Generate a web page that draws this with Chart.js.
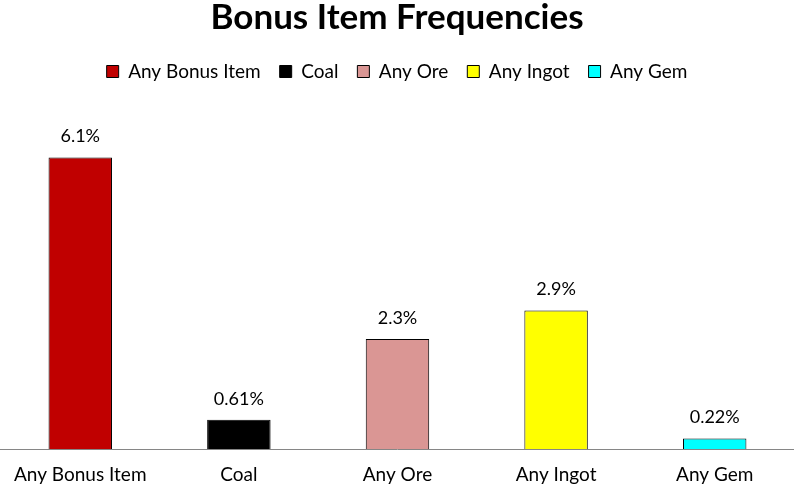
<!DOCTYPE html>
<html>
<head>
<meta charset="utf-8">
<script src="https://cdn.jsdelivr.net/npm/chart.js@4"></script>
<style>
  html, body { margin: 0; padding: 0; background: #fff; }
  #wrap { width: 794px; height: 486px; position: relative; }
</style>
</head>
<body>
<div id="wrap"><canvas id="chart"></canvas></div>
<script>
const categories = ["Any Bonus Item", "Coal", "Any Ore", "Any Ingot", "Any Gem"];
const frequencies = [6.1, 0.61, 2.3, 2.9, 0.22];
const valueLabels = ["6.1%", "0.61%", "2.3%", "2.9%", "0.22%"];
const barColors = ["#c00000", "#000000", "#da9694", "#ffff00", "#00ffff"];

const FONT = "Lato, 'Open Sans', sans-serif";

// draws the percentage text above each bar
const valueLabelPlugin = {
  id: "valueLabels",
  afterDatasetsDraw(chart) {
    const ctx = chart.ctx;
    const meta = chart.getDatasetMeta(0);
    ctx.save();
    ctx.font = `18px ${FONT}`;
    ctx.fillStyle = "#000";
    ctx.textAlign = "center";
    ctx.textBaseline = "middle";
    meta.data.forEach((bar, i) => {
      ctx.fillText(valueLabels[i], bar.x, bar.y - 21);
    });
    ctx.restore();
  }
};

new Chart(document.getElementById("chart"), {
  type: "bar",
  data: {
    labels: categories,
    datasets: [{
      data: frequencies,
      backgroundColor: barColors,
      borderColor: "#000",
      borderWidth: 1,
      borderSkipped: "bottom",
      categoryPercentage: 1,
      barPercentage: 0.4
    }]
  },
  options: {
    responsive: true,
    maintainAspectRatio: false,
    animation: false,
    devicePixelRatio: 1,
    layout: { padding: 0 },
    plugins: {
      title: {
        display: true,
        text: "Bonus Item Frequencies",
        color: "#000",
        font: { family: FONT, size: 35, weight: "bold", lineHeight: 1 },
        padding: { top: 0, bottom: 8 }
      },
      legend: {
        display: true,
        position: "top",
        labels: {
          color: "#000",
          font: { family: FONT, size: 19 },
          boxWidth: 12,
          boxHeight: 12,
          padding: 19,
          generateLabels: () => categories.map((name, i) => ({
            text: name,
            fillStyle: barColors[i],
            strokeStyle: "#000",
            lineWidth: 1,
            hidden: false,
            index: i
          }))
        },
        onClick: () => {}
      },
      tooltip: { enabled: false }
    },
    scales: {
      x: {
        grid: { display: false, drawTicks: false },
        border: { display: true, color: "#868686", width: 1 },
        ticks: { color: "#000", font: { family: FONT, size: 19 }, padding: 14 },
        afterFit: (scale) => { scale.height = 37; }
      },
      y: {
        display: false,
        min: 0,
        max: 7.49
      }
    }
  },
  plugins: [valueLabelPlugin]
});
</script>
</body>
</html>
